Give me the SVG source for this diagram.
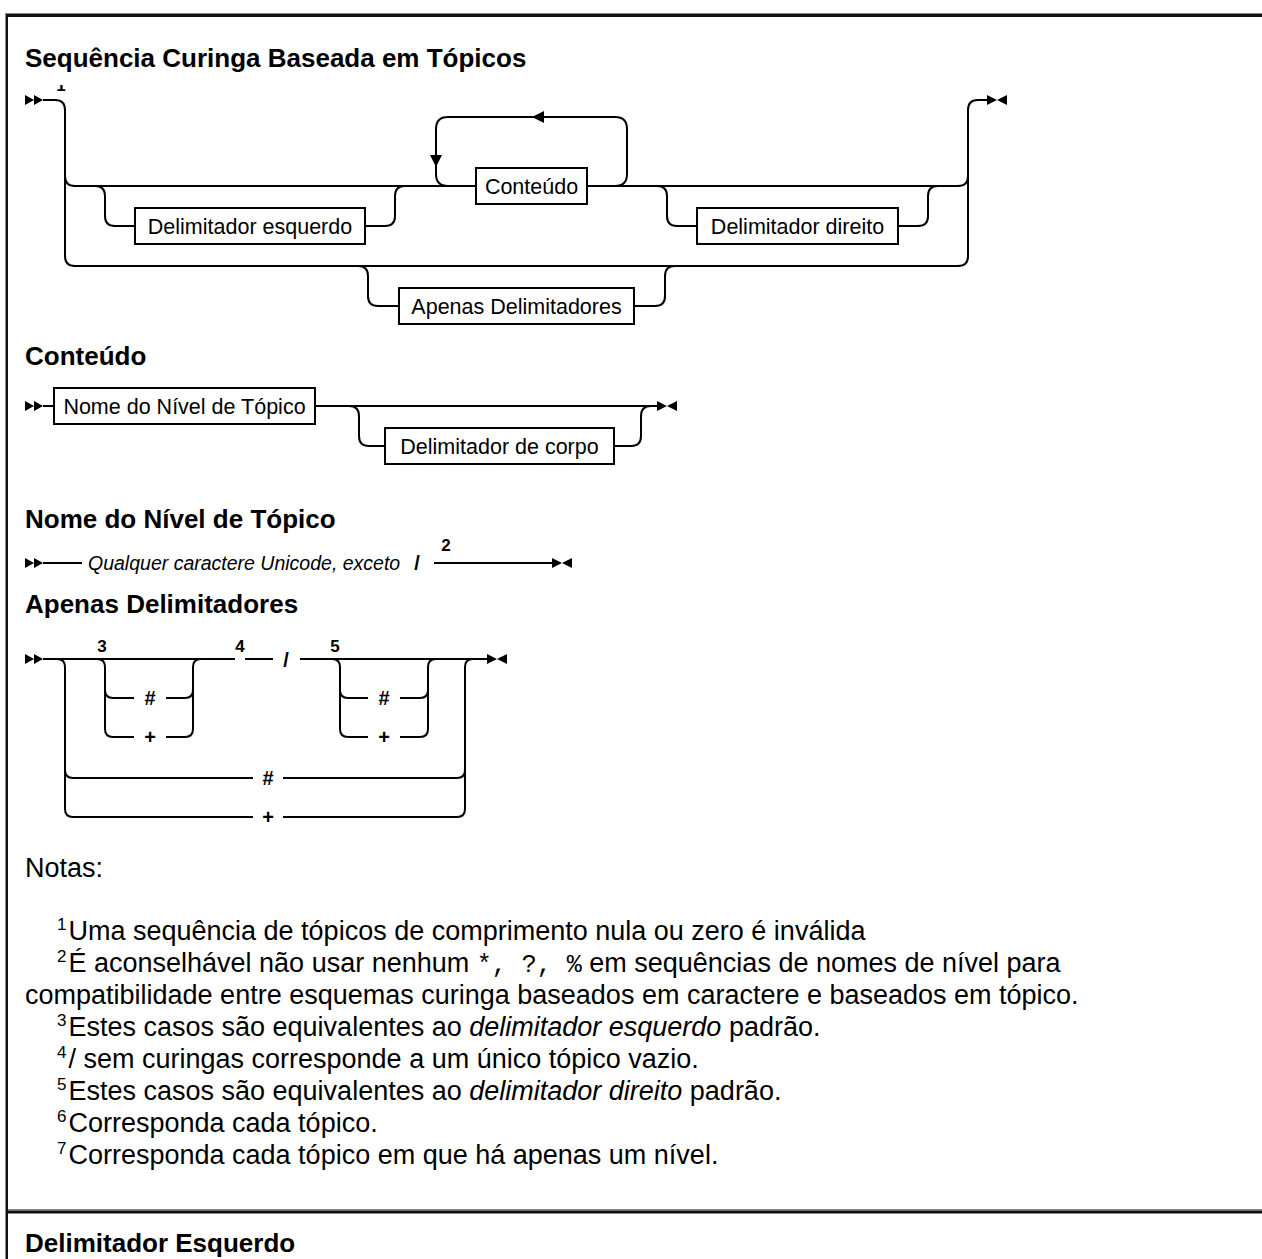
<svg xmlns="http://www.w3.org/2000/svg" width="1262" height="1259" viewBox="0 0 1262 1259">
  <style>
    .ln { fill: none; stroke: #000; stroke-width: 2; }
    .box { fill: #fff; stroke: #000; stroke-width: 2; }
    .lbl { font-family: "Liberation Sans", Arial, sans-serif; font-size: 21.5px; fill: #000; text-anchor: middle; }
    .h { font-family: "Liberation Sans", Arial, sans-serif; font-size: 26px; font-weight: bold; fill: #000; }
    .sym { font-family: "Liberation Sans", Arial, sans-serif; font-size: 20px; font-weight: bold; fill: #000; text-anchor: middle; }
    .num { font-family: "Liberation Sans", Arial, sans-serif; font-size: 17px; font-weight: bold; fill: #000; text-anchor: middle; }
    .it { font-family: "Liberation Sans", Arial, sans-serif; font-size: 19.5px; font-style: italic; fill: #000; }
    .note { font-family: "Liberation Sans", Arial, sans-serif; font-size: 27px; fill: #000; }
    .sup { font-size: 17px; }
    .mono { font-family: "Liberation Mono", "Courier New", monospace; font-size: 25px; }
    .em { font-style: italic; }
    .mark { fill: #000; }
  </style>
  <defs>
    <path id="start" d="M0,-5 L9,0 L0,5 Z M9,-5 L18,0 L9,5 Z"/>
    <path id="end" d="M0,-5 L10,0 L0,5 Z M20,-5 L10,0 L20,5 Z"/>
    <clipPath id="railTop"><rect x="0" y="85" width="1262" height="40"/></clipPath>
  </defs>

  <!-- page frame -->
  <g id="frame">
    <rect x="5" y="13" width="1257" height="1" fill="#888"/>
    <rect x="5" y="14" width="1257" height="3" fill="#111"/>
    <rect x="5" y="13" width="1" height="1246" fill="#888"/>
    <rect x="6" y="14" width="2" height="1245" fill="#111"/>
    <rect x="8" y="1209" width="1254" height="1.5" fill="#888"/>
    <rect x="8" y="1210.5" width="1254" height="3" fill="#111"/>
  </g>

  <!-- ===== Sequência Curinga Baseada em Tópicos ===== -->
  <text class="h" x="25" y="67">Sequência Curinga Baseada em Tópicos</text>
  <text class="num" x="61" y="91" clip-path="url(#railTop)">1</text>

  <g id="connectors">
    <!-- main rail -->
    <path class="ln" d="M43,100 H55 Q65,100 65,110 V256 Q65,266 75,266 H958 Q968,266 968,256 V110 Q968,100 978,100 H987"/>
    <path class="ln" d="M65,176 Q65,186 75,186 H476 M587,186 H958 Q968,186 968,176"/>
    <!-- optional left delimiter -->
    <path class="ln" d="M95,186 Q105,186 105,196 V216 Q105,226 115,226 H135 M365,226 H385 Q395,226 395,216 V196 Q395,186 405,186"/>
    <!-- repeat loop around content -->
    <path class="ln" d="M448,186 Q436,186 436,174 V129 Q436,117 448,117 H615 Q627,117 627,129 V174 Q627,186 615,186"/>
    <path class="mark" d="M532,117 L544,111 L544,123 Z"/>
    <path class="mark" d="M436,167 L430,155 L442,155 Z"/>
    <!-- optional right delimiter -->
    <path class="ln" d="M657,186 Q667,186 667,196 V216 Q667,226 677,226 H697 M898,226 H918 Q928,226 928,216 V196 Q928,186 938,186"/>
    <!-- delimiters only -->
    <path class="ln" d="M358,266 Q368,266 368,276 V296 Q368,306 378,306 H399 M634,306 H655 Q665,306 665,296 V276 Q665,266 675,266"/>

    <!-- Conteúdo -->
    <path class="ln" d="M43,406 H54 M315,406 H657"/>
    <path class="ln" d="M349,406 Q359,406 359,416 V436 Q359,446 369,446 H385 M614,446 H631 Q641,446 641,436 V416 Q641,406 651,406"/>

    <!-- Nome do Nível de Tópico -->
    <path class="ln" d="M43,563 H82 M434,563 H552"/>

    <!-- Apenas Delimitadores -->
    <path class="ln" d="M43,659 H235 M245,659 H273 M300,659 H487"/>
    <path class="ln" d="M97,659 Q105,659 105,667 V729 Q105,737 113,737 H134 M166,737 H185 Q193,737 193,729 V667 Q193,659 201,659"/>
    <path class="ln" d="M105,690 Q105,698 113,698 H134 M166,698 H185 Q193,698 193,690"/>
    <path class="ln" d="M332,659 Q340,659 340,667 V729 Q340,737 348,737 H368 M400,737 H420 Q428,737 428,729 V667 Q428,659 436,659"/>
    <path class="ln" d="M340,690 Q340,698 348,698 H368 M400,698 H420 Q428,698 428,690"/>
    <path class="ln" d="M57,659 Q65,659 65,667 V809 Q65,817 73,817 H253 M283,817 H457 Q465,817 465,809 V667 Q465,659 473,659"/>
    <path class="ln" d="M65,770 Q65,778 73,778 H253 M283,778 H457 Q465,778 465,770"/>

    <!-- start / end markers -->
    <use href="#start" class="mark" x="25" y="100"/>
    <use href="#end" class="mark" x="987" y="100"/>
    <use href="#start" class="mark" x="25" y="406"/>
    <use href="#end" class="mark" x="657" y="406"/>
    <use href="#start" class="mark" x="25" y="563"/>
    <use href="#end" class="mark" x="552" y="563"/>
    <use href="#start" class="mark" x="25" y="659"/>
    <use href="#end" class="mark" x="487" y="659"/>
  </g>

  <g id="node-delim-esquerdo">
    <rect class="box" x="135" y="208" width="230" height="36"/>
    <text class="lbl" x="250" y="233.5">Delimitador esquerdo</text>
  </g>
  <g id="node-conteudo">
    <rect class="box" x="476" y="168" width="111" height="36"/>
    <text class="lbl" x="531.5" y="193.5">Conteúdo</text>
  </g>
  <g id="node-delim-direito">
    <rect class="box" x="697" y="208" width="201" height="36"/>
    <text class="lbl" x="797.5" y="233.5">Delimitador direito</text>
  </g>
  <g id="node-apenas">
    <rect class="box" x="399" y="288" width="235" height="36"/>
    <text class="lbl" x="516.5" y="313.5">Apenas Delimitadores</text>
  </g>

  <!-- ===== Conteúdo ===== -->
  <text class="h" x="25" y="365">Conteúdo</text>
  <g id="node-nome-nivel">
    <rect class="box" x="54" y="388" width="261" height="36"/>
    <text class="lbl" x="184.5" y="413.5">Nome do Nível de Tópico</text>
  </g>
  <g id="node-delim-corpo">
    <rect class="box" x="385" y="428" width="229" height="36"/>
    <text class="lbl" x="499.5" y="453.5">Delimitador de corpo</text>
  </g>

  <!-- ===== Nome do Nível de Tópico ===== -->
  <text class="h" x="25" y="528">Nome do Nível de Tópico</text>
  <g id="node-qualquer">
    <text class="it" x="88" y="570">Qualquer caractere Unicode, exceto</text>
    <text class="sym" x="417" y="570" font-size="21">/</text>
    <text class="num" x="446" y="551">2</text>
  </g>

  <!-- ===== Apenas Delimitadores ===== -->
  <text class="h" x="25" y="613">Apenas Delimitadores</text>
  <g id="node-ad-labels">
    <text class="num" x="102" y="652">3</text>
    <text class="num" x="240" y="652">4</text>
    <text class="num" x="335" y="652">5</text>
    <text class="sym" x="286" y="667" font-size="21">/</text>
  </g>
  <g id="node-ad-left">
    <text class="sym" x="150" y="705">#</text>
    <text class="sym" x="150" y="744">+</text>
  </g>
  <g id="node-ad-right">
    <text class="sym" x="384" y="705">#</text>
    <text class="sym" x="384" y="744">+</text>
  </g>
  <g id="node-ad-alt">
    <text class="sym" x="268" y="785">#</text>
    <text class="sym" x="268" y="824">+</text>
  </g>

  <!-- ===== Notas ===== -->
  <g id="notes">
    <text class="note" x="25" y="877">Notas:</text>
    <text class="note" x="57" y="940"><tspan class="sup" dy="-10">1</tspan><tspan dx="2" dy="10">Uma sequência de tópicos de comprimento nula ou zero é inválida</tspan></text>
    <text class="note" x="57" y="972"><tspan class="sup" dy="-10">2</tspan><tspan dx="2" dy="10">É aconselhável não usar nenhum </tspan><tspan class="mono">*, ?, %</tspan><tspan> em sequências de nomes de nível para</tspan></text>
    <text class="note" x="25" y="1004">compatibilidade entre esquemas curinga baseados em caractere e baseados em tópico.</text>
    <text class="note" x="57" y="1036"><tspan class="sup" dy="-10">3</tspan><tspan dx="2" dy="10">Estes casos são equivalentes ao </tspan><tspan class="em">delimitador esquerdo</tspan><tspan> padrão.</tspan></text>
    <text class="note" x="57" y="1068"><tspan class="sup" dy="-10">4</tspan><tspan dx="2" dy="10">/ sem curingas corresponde a um único tópico vazio.</tspan></text>
    <text class="note" x="57" y="1100"><tspan class="sup" dy="-10">5</tspan><tspan dx="2" dy="10">Estes casos são equivalentes ao </tspan><tspan class="em">delimitador direito</tspan><tspan> padrão.</tspan></text>
    <text class="note" x="57" y="1132"><tspan class="sup" dy="-10">6</tspan><tspan dx="2" dy="10">Corresponda cada tópico.</tspan></text>
    <text class="note" x="57" y="1164"><tspan class="sup" dy="-10">7</tspan><tspan dx="2" dy="10">Corresponda cada tópico em que há apenas um nível.</tspan></text>
  </g>

  <!-- ===== Delimitador Esquerdo ===== -->
  <text class="h" x="25" y="1252">Delimitador Esquerdo</text>
</svg>
